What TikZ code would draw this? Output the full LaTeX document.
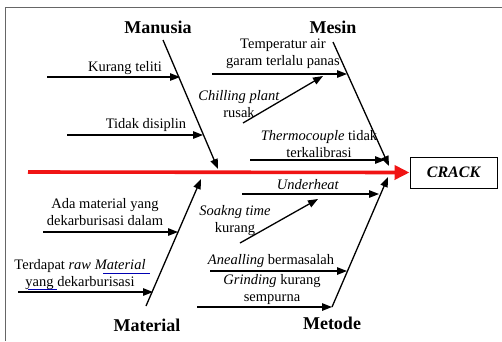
\documentclass[tikz,border=0pt]{standalone}
\usepackage{fontspec}
\setmainfont{Liberation Serif}
\usetikzlibrary{arrows.meta}
\begin{document}
\begin{tikzpicture}[x=1pt,y=-1pt,
  lbl/.style={font=\fontsize{14.5}{17}\selectfont, align=center, inner sep=0pt},
  hdr/.style={font=\fontsize{18}{20}\selectfont\bfseries, inner sep=0pt},
  bone/.style={line width=1.3pt, -{Triangle[length=10pt,width=7.5pt]}},
  spine/.style={line width=3.6pt, draw={rgb,255:red,240;green,20;blue,20}, -{Triangle[length=15pt,width=14pt]}},
  effect/.style={draw, line width=1pt, minimum width=87pt, minimum height=31pt, inner sep=0pt, font=\fontsize{16}{18}\selectfont\bfseries\itshape},
  frame/.style={draw=black!60, line width=1pt},
  spell/.style={draw=blue!70!black, line width=0.6pt}]
\useasboundingbox (0,0) rectangle (502,341);
% frame
\draw[frame] (5,341) -- (5,7) -- (502,7);
% headers
\node[hdr] (hman) at (158,27) {Manusia};
\node[hdr] (hmes) at (333,27) {Mesin};
\node[hdr] (hmat) at (147,325) {Material};
\node[hdr] (hmet) at (332,323) {Metode};
% effect
\node[effect] (crack) at (453.5,172.5) {CRACK};
% coordinates
\coordinate (s0) at (28,172);
\coordinate (ma0) at (163,40);  \coordinate (ma1) at (218,169);
\coordinate (me0) at (333,42);  \coordinate (me1) at (389,166);
\coordinate (mt0) at (146,306); \coordinate (mt1) at (201,179);
\coordinate (mo0) at (332,307); \coordinate (mo1) at (388,177);
\coordinate (k0) at (47,77);   \coordinate (k1) at (180,77);
\coordinate (t0) at (67,135);  \coordinate (t1) at (203,135);
\coordinate (tp0) at (212,74); \coordinate (tp1) at (347,74);
\coordinate (c0) at (243,123); \coordinate (c1) at (323,76);
\coordinate (th0) at (250,160);\coordinate (th1) at (385,160);
\coordinate (a0) at (43,232);  \coordinate (a1) at (178,232);
\coordinate (r0) at (18,292);  \coordinate (r1) at (153,292);
\coordinate (u0) at (242,194); \coordinate (u1) at (379,194);
\coordinate (so0) at (240,243);\coordinate (so1) at (318,199);
\coordinate (an0) at (210,271);\coordinate (an1) at (347,271);
\coordinate (g0) at (197,307); \coordinate (g1) at (332,307);
% labels
\node[lbl] (lk) at (125,68) {Kurang teliti};
\node[lbl] (lt) at (146,125) {Tidak disiplin};
\node[lbl] (ltp) at (283,54) {Temperatur air\\garam terlalu panas};
\node[lbl] (lc) at (239,104) {\textit{Chilling plant}\\rusak};
\node[lbl] (lth) at (319,144) {\textit{Thermocouple} tidak\\terkalibrasi};
\node[lbl] (la) at (105,212) {Ada material yang\\dekarburisasi dalam};
\node[lbl] (lr) at (80,275) {Terdapat \textit{raw Material}\\yang dekarburisasi};
\node[lbl] (lu) at (308,185) {\textit{Underheat}};
\node[lbl] (lso) at (235,221) {\textit{Soakng time}\\kurang};
\node[lbl] (lan) at (271,261) {\textit{Anealling} bermasalah};
\node[lbl] (lg) at (272,290) {\textit{Grinding} kurang\\sempurna};
% spell-check underlines
\draw[spell] (103,273) -- (150,273);
\draw[spell] (28,289) -- (57,289);
% spine
\draw[spine] (s0) -- (crack.west);
% bones
\draw[bone] (ma0) -- (ma1);
\draw[bone] (me0) -- (me1);
\draw[bone] (mt0) -- (mt1);
\draw[bone] (mo0) -- (mo1);
% causes
\draw[bone] (k0) -- (k1);
\draw[bone] (t0) -- (t1);
\draw[bone] (tp0) -- (tp1);
\draw[bone] (c0) -- (c1);
\draw[bone] (th0) -- (th1);
\draw[bone] (a0) -- (a1);
\draw[bone] (r0) -- (r1);
\draw[bone] (u0) -- (u1);
\draw[bone] (so0) -- (so1);
\draw[bone] (an0) -- (an1);
\draw[bone] (g0) -- (g1);
\end{tikzpicture}
\end{document}
